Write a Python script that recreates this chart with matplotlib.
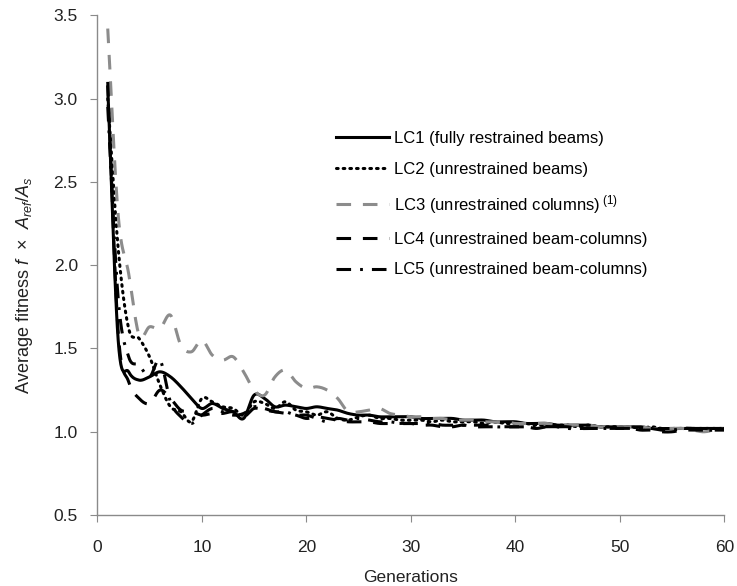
import matplotlib
matplotlib.use('Agg')
import matplotlib.pyplot as plt
import numpy as np

plt.rcParams['font.family'] = ['Liberation Sans', 'DejaVu Sans']
plt.rcParams['mathtext.fontset'] = 'custom'
plt.rcParams['mathtext.rm'] = 'Liberation Sans'
plt.rcParams['mathtext.it'] = 'Liberation Sans:italic'
plt.rcParams['lines.scale_dashes'] = False

generations = list(range(1, 61))

lc1 = [3.07, 1.55, 1.36, 1.31, 1.33, 1.36, 1.33, 1.27, 1.20, 1.14,
       1.17, 1.14, 1.12, 1.08, 1.22, 1.20, 1.15, 1.16, 1.15, 1.14,
       1.15, 1.14, 1.13, 1.11, 1.10, 1.10, 1.09, 1.09, 1.09, 1.09,
       1.08, 1.08, 1.08, 1.08, 1.07, 1.07, 1.07, 1.06, 1.06, 1.06,
       1.05, 1.05, 1.05, 1.04, 1.04, 1.04, 1.04, 1.03, 1.03, 1.03,
       1.03, 1.03, 1.02, 1.02, 1.02, 1.02, 1.02, 1.02, 1.02, 1.02]
lc2 = [3.00, 2.10, 1.62, 1.56, 1.45, 1.28, 1.15, 1.12, 1.06, 1.20,
       1.18, 1.15, 1.14, 1.10, 1.18, 1.17, 1.14, 1.18, 1.13, 1.12,
       1.10, 1.12, 1.08, 1.07, 1.09, 1.10, 1.08, 1.08, 1.07, 1.07,
       1.07, 1.06, 1.07, 1.06, 1.06, 1.06, 1.05, 1.06, 1.05, 1.05,
       1.05, 1.04, 1.04, 1.04, 1.04, 1.03, 1.04, 1.03, 1.03, 1.03,
       1.03, 1.02, 1.03, 1.02, 1.02, 1.02, 1.02, 1.02, 1.02, 1.02]
lc3 = [3.42, 2.30, 1.95, 1.58, 1.63, 1.62, 1.70, 1.52, 1.48, 1.55,
       1.46, 1.43, 1.45, 1.36, 1.25, 1.22, 1.33, 1.37, 1.30, 1.26,
       1.27, 1.25, 1.20, 1.12, 1.12, 1.13, 1.14, 1.11, 1.10, 1.09,
       1.09, 1.08, 1.08, 1.07, 1.07, 1.07, 1.06, 1.06, 1.06, 1.05,
       1.05, 1.05, 1.05, 1.04, 1.04, 1.04, 1.04, 1.03, 1.03, 1.03,
       1.03, 1.03, 1.02, 1.02, 1.02, 1.02, 1.01, 1.00, 1.01, 1.02]
lc4 = [3.10, 1.60, 1.30, 1.20, 1.17, 1.25, 1.20, 1.13, 1.12, 1.10,
       1.11, 1.11, 1.12, 1.09, 1.14, 1.13, 1.12, 1.11, 1.10, 1.08,
       1.09, 1.08, 1.07, 1.06, 1.06, 1.06, 1.05, 1.05, 1.05, 1.05,
       1.04, 1.04, 1.03, 1.03, 1.04, 1.03, 1.03, 1.03, 1.03, 1.03,
       1.03, 1.02, 1.03, 1.03, 1.03, 1.02, 1.02, 1.02, 1.02, 1.02,
       1.02, 1.01, 1.01, 1.00, 1.00, 1.01, 1.01, 1.01, 1.01, 1.01]
lc5 = [2.95, 1.80, 1.45, 1.40, 1.33, 1.43, 1.18, 1.09, 1.05, 1.10,
       1.14, 1.12, 1.10, 1.11, 1.15, 1.14, 1.12, 1.12, 1.10, 1.10,
       1.08, 1.06, 1.08, 1.07, 1.08, 1.07, 1.06, 1.06, 1.05, 1.05,
       1.05, 1.05, 1.04, 1.04, 1.04, 1.04, 1.04, 1.03, 1.03, 1.03,
       1.03, 1.03, 1.03, 1.03, 1.02, 1.02, 1.02, 1.02, 1.02, 1.02,
       1.02, 1.02, 1.02, 1.01, 1.01, 1.02, 1.02, 1.01, 1.01, 1.02]

labels = ['LC1 (fully restrained beams)',
          'LC2 (unrestrained beams)',
          'LC3 (unrestrained columns)$^{\\rm\\ (1)}$',
          'LC4 (unrestrained beam-columns)',
          'LC5 (unrestrained beam-columns)']


def smooth(x, y, n=12):
    # catmull-rom curve through the points, like excel's smoothed line
    x = np.asarray(x, float)
    y = np.asarray(y, float)
    px = np.concatenate([[2 * x[0] - x[1]], x, [2 * x[-1] - x[-2]]])
    py = np.concatenate([[2 * y[0] - y[1]], y, [2 * y[-1] - y[-2]]])
    xs, ys = [], []
    t = np.linspace(0, 1, n, endpoint=False)
    for i in range(1, len(px) - 2):
        for p, out in ((px, xs), (py, ys)):
            p0, p1, p2, p3 = p[i - 1], p[i], p[i + 1], p[i + 2]
            out.extend(0.5 * (2 * p1 + (-p0 + p2) * t
                              + (2 * p0 - 5 * p1 + 4 * p2 - p3) * t ** 2
                              + (-p0 + 3 * p1 - 3 * p2 + p3) * t ** 3))
    xs.append(x[-1])
    ys.append(y[-1])
    return xs, ys


fig = plt.figure(figsize=(7.37, 5.86), dpi=100)
ax = fig.add_axes([0.132, 0.121, 0.851, 0.853])

styles = [dict(color='black', linestyle='-'),
          dict(color='black', linestyle=(0, (1.2, 3.6)), dash_capstyle='round'),
          dict(color='#8c8c8c', linestyle=(0, (10.5, 8.5))),
          dict(color='black', linestyle=(0, (10.5, 8.5))),
          dict(color='black', linestyle=(0, (10.5, 6.5, 2, 6.5)))]

for series, lab, st in zip([lc1, lc2, lc3, lc4, lc5], labels, styles):
    sx, sy = smooth(generations, series)
    ax.plot(sx, sy, linewidth=2.2, label=lab, **st)

ax.set_xlim(0, 60)
ax.set_ylim(0.5, 3.5)
ax.set_xticks(range(0, 61, 10))
ax.set_yticks(np.arange(0.5, 3.51, 0.5))
ax.set_yticklabels(['%.1f' % v for v in np.arange(0.5, 3.51, 0.5)])

for s in ['top', 'right']:
    ax.spines[s].set_visible(False)
for s in ['left', 'bottom']:
    ax.spines[s].set_color('#8a8a8a')
    ax.spines[s].set_linewidth(1.0)
ax.tick_params(axis='both', colors='#8a8a8a', labelcolor='#222222',
               labelsize=12.5, length=5, direction='out')
ax.tick_params(axis='x', pad=13)
ax.tick_params(axis='y', pad=9)

ax.set_xlabel('Generations', fontsize=12.5, color='#222222', labelpad=11)
ax.set_ylabel(r'Average fitness $f$ $\,\times\,$ $A_{ref}$/$A_{s}$', fontsize=13,
              color='#222222')
ax.yaxis.set_label_coords(-0.1, 0.46)

ax.legend(loc='upper left', bbox_to_anchor=(0.38, 0.768), frameon=False,
          fontsize=12, handlelength=3.2, handletextpad=0.3,
          labelspacing=0.95, borderpad=0, borderaxespad=0)

plt.savefig('out.png', dpi=100)
